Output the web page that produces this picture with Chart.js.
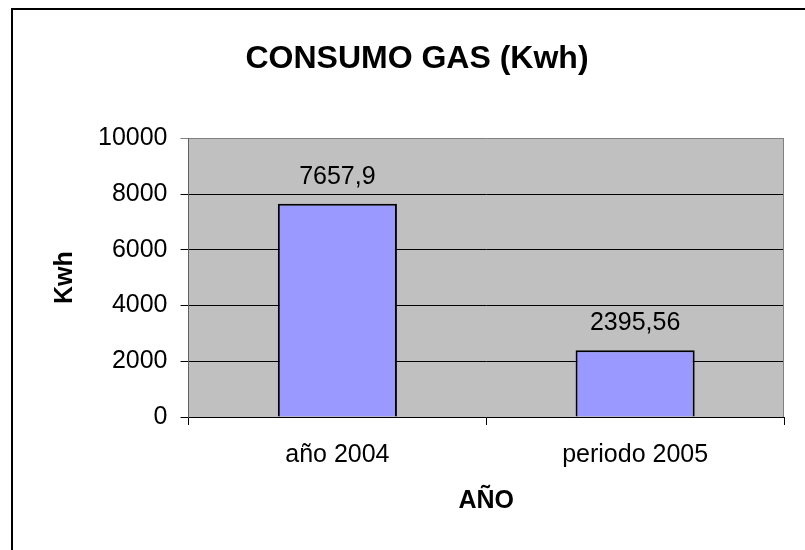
<!DOCTYPE html>
<html><head><meta charset="utf-8">
<script src="https://cdn.jsdelivr.net/npm/chart.js@4"></script>
<style>html,body{margin:0;padding:0;background:#fff;} #wrap{width:805px;height:550px;position:relative}</style>
</head><body><div id="wrap"><canvas id="c" width="805" height="550"></canvas></div>
<script>
const categories = ['año 2004', 'periodo 2005'];
const consumo = [7657.9, 2395.56];
const yTicks = [0, 2000, 4000, 6000, 8000, 10000];
const chartTitle = 'CONSUMO GAS (Kwh)';
const xTitle = 'AÑO';
const yTitle = 'Kwh';

const FONT = "'Liberation Sans', Arial, sans-serif";

const frame = {
  id: 'frame',
  beforeDraw(chart) {
    const {ctx, chartArea: a} = chart;
    ctx.save();
    ctx.fillStyle = '#fff';
    ctx.fillRect(0, 0, chart.width, chart.height);
    ctx.fillStyle = '#C0C0C0';
    ctx.fillRect(a.left, a.top, a.right - a.left, a.bottom - a.top);
    ctx.strokeStyle = '#000';
    ctx.lineWidth = 2;
    ctx.beginPath();
    ctx.moveTo(12, chart.height);
    ctx.lineTo(12, 9);
    ctx.lineTo(chart.width, 9);
    ctx.stroke();
    ctx.restore();
  },
  beforeDatasetsDraw(chart) {
    const {ctx, chartArea: a} = chart;
    ctx.save();
    ctx.strokeStyle = '#808080';
    ctx.lineWidth = 1;
    ctx.beginPath();
    ctx.moveTo(a.right - 0.5, a.top);
    ctx.lineTo(a.right - 0.5, a.bottom);
    ctx.stroke();
    ctx.restore();
  },
  afterDatasetsDraw(chart) {
    const {ctx} = chart;
    const meta = chart.getDatasetMeta(0);
    ctx.save();
    ctx.font = '25px ' + FONT;
    ctx.fillStyle = '#000';
    ctx.textAlign = 'center';
    ctx.textBaseline = 'middle';
    meta.data.forEach((el, i) => {
      const v = chart.data.datasets[0].data[i];
      ctx.fillText(String(v).replace('.', ','), el.x, el.y - 27);
    });
    ctx.restore();
  }
};

new Chart(document.getElementById('c'), {
  type: 'bar',
  data: {
    labels: categories,
    datasets: [{
      data: consumo,
      backgroundColor: '#9999FF',
      borderColor: '#000',
      borderWidth: 2,
      categoryPercentage: 1,
      barPercentage: 0.4
    }]
  },
  options: {
    responsive: false,
    devicePixelRatio: 1,
    animation: false,
    layout: {padding: {left: 50, right: 21, top: 0, bottom: 34}},
    plugins: {
      legend: {display: false},
      tooltip: {enabled: false},
      title: {
        display: true,
        text: chartTitle,
        color: '#000',
        font: {family: FONT, size: 32, weight: 'bold'},
        padding: {top: 40, bottom: 60}
      }
    },
    scales: {
      x: {
        grid: {display: true, drawOnChartArea: false, drawTicks: true, tickLength: 8, color: '#000', offset: true},
        border: {display: true, color: '#000', width: 1},
        ticks: {color: '#000', font: {family: FONT, size: 25}, padding: 15, maxRotation: 0},
        title: {display: true, text: xTitle, color: '#000', font: {family: FONT, size: 25, weight: 'bold'}, padding: {top: 1, bottom: 0}}
      },
      y: {
        min: 0, max: 10000,
        afterBuildTicks: s => { s.ticks = yTicks.map(v => ({value: v})); },
        grid: {color: c => (c.tick && c.tick.value === 10000) ? '#808080' : '#000', tickLength: 8, drawTicks: true},
        border: {display: true, color: '#606060', width: 1},
        ticks: {color: '#000', font: {family: FONT, size: 25}, padding: 13, callback: v => String(v)},
        title: {display: true, text: yTitle, color: '#000', font: {family: FONT, size: 25, weight: 'bold'}, padding: {top: 0, bottom: 5}}
      }
    }
  },
  plugins: [frame]
});
</script></body></html>
